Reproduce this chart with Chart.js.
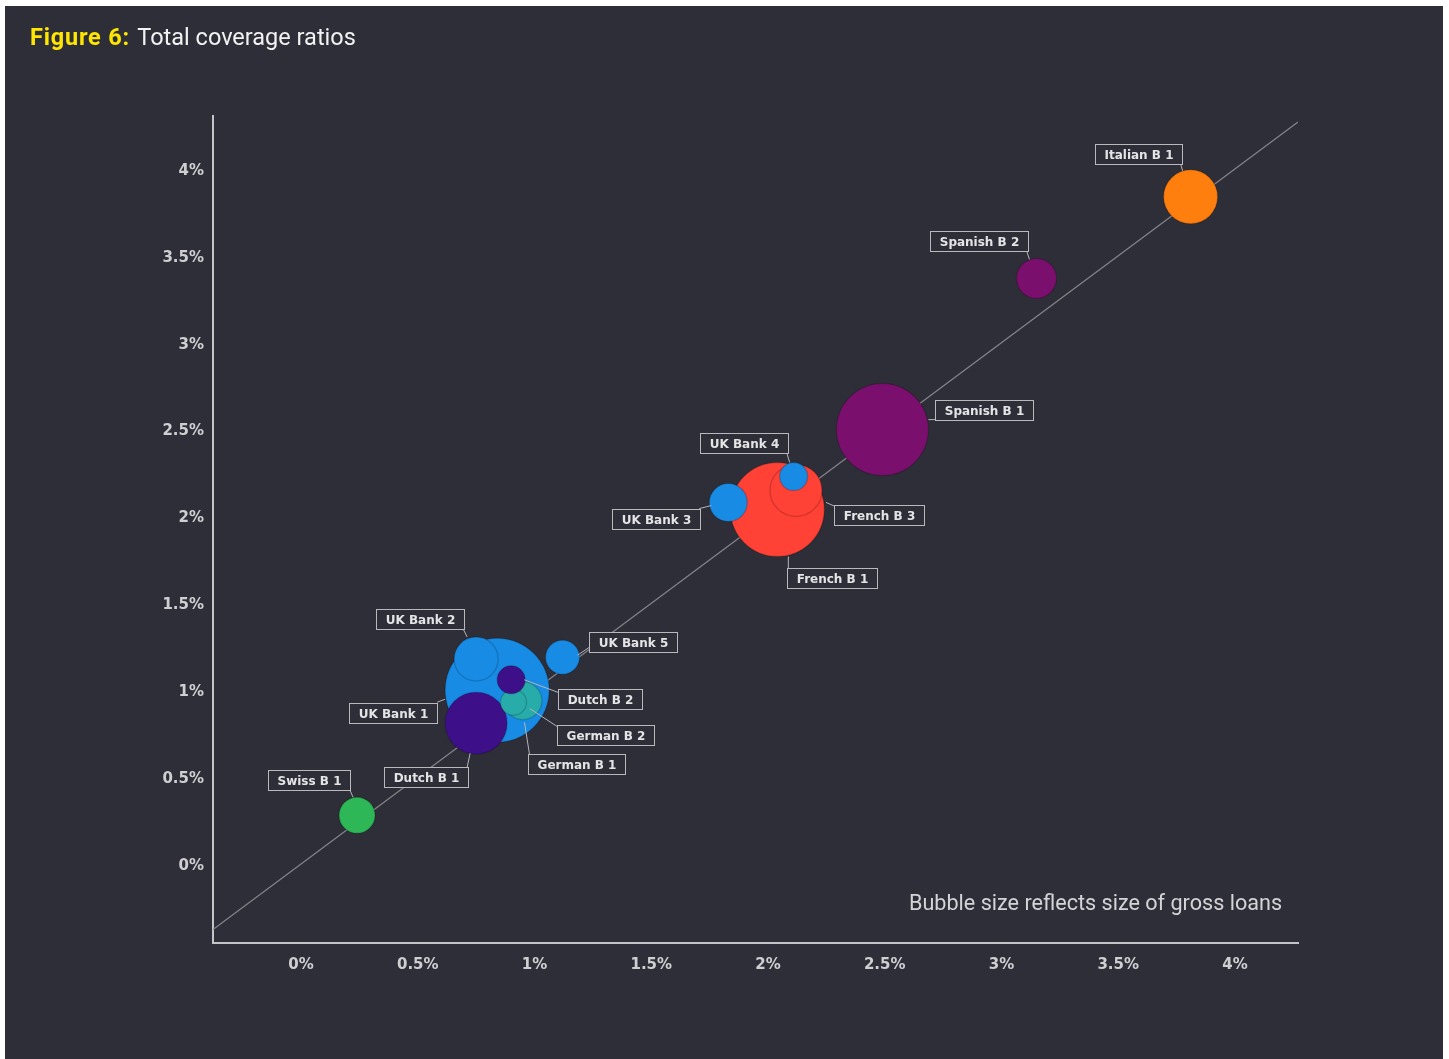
<!DOCTYPE html>
<html>
<head>
<meta charset="utf-8">
<script src="https://cdn.jsdelivr.net/npm/chart.js@4/dist/chart.umd.min.js"></script>
<style>
  html, body { margin: 0; padding: 0; background: #ffffff; }
  body { width: 1449px; height: 1059px; position: relative; overflow: hidden; }
  #panel { position: absolute; left: 5px; top: 6px; width: 1438px; height: 1053px; background: #2e2e38; }
  #title { position: absolute; left: 25px; top: 17px; font-family: Roboto, "DejaVu Sans", sans-serif; font-size: 23.5px; color: #f2f2f2; white-space: nowrap; }
  #title b { color: #ffe600; font-weight: 700; letter-spacing: 0.8px; margin-right: 2px; }
  #note { position: absolute; left: 904px; top: 884px; font-family: Roboto, "DejaVu Sans", sans-serif; font-size: 21.6px; color: #d4d4d8; white-space: nowrap; }
  canvas { position: absolute; left: 0; top: 0; }
</style>
</head>
<body>
<div id="panel">
  <canvas id="c" width="1438" height="1053"></canvas>
  <div id="title"><b>Figure 6:</b> Total coverage ratios</div>
  <div id="note">Bubble size reflects size of gross loans</div>
</div>
<script>
// ---- data ----
const BANKS    = ['Swiss B 1','UK Bank 1','UK Bank 2','Dutch B 1','German B 2','German B 1','Dutch B 2','UK Bank 5','French B 1','French B 3','UK Bank 3','UK Bank 4','Spanish B 1','Spanish B 2','Italian B 1'];
const X_VALUES = [0.24, 0.84, 0.75, 0.75, 0.95, 0.91, 0.90, 1.12, 2.04, 2.12, 1.83, 2.11, 2.49, 3.15, 3.81];
const Y_VALUES = [0.28, 1.00, 1.18, 0.81, 0.94, 0.93, 1.06, 1.19, 2.04, 2.15, 2.08, 2.23, 2.50, 3.37, 3.84];
const LOAN_SIZE = [18, 52, 22, 31, 19, 13, 14, 17, 47, 26, 19, 14, 46, 20, 27];
const COUNTRY  = ['Swiss','UK','UK','Dutch','German','German','Dutch','UK','French','French','UK','UK','Spanish','Spanish','Italian'];
const TICK_VALUES = [0, 0.5, 1, 1.5, 2, 2.5, 3, 3.5, 4];
const TICK_LABELS = ['0%','0.5%','1%','1.5%','2%','2.5%','3%','3.5%','4%'];
const X_MIN = -0.377, X_MAX = 4.27;
const Y_MIN = -0.455, Y_MAX = 4.305;

// ---- styles ----
const COLORS = {
  Swiss: '#2db757', UK: '#188ce5', Dutch: '#3d108a', German: '#27acaa',
  French: '#ff4136', Spanish: '#7b0f6e', Italian: '#ff7f0e'
};
// label box centre offset (dx,dy) and connector from a -> b, px relative to bubble centre
const LABEL_LAYOUT = {
  'Swiss B 1':  {dx:-48,  dy:-35,   a:[-7,-25], b:[-4,-18]},
  'UK Bank 1':  {dx:-104, dy:23,    a:[-60,12], b:[-52,9]},
  'UK Bank 2':  {dx:-56,  dy:-39.5, a:[-13,-30], b:[-9,-22]},
  'Dutch B 1':  {dx:-50.5,dy:54,    a:[-9,44],  b:[-6,30]},
  'German B 2': {dx:83,   dy:34,    a:[7,8],    b:[36,27]},
  'German B 1': {dx:63,   dy:62,    a:[11,20],  b:[16,52]},
  'Dutch B 2':  {dx:88.5, dy:19,    a:[13,0],   b:[48,13]},
  'UK Bank 5':  {dx:70,   dy:-15,   a:[15,-2],  b:[27,-10]},
  'French B 1': {dx:55,   dy:68,    a:[11,47],  b:[11,68]},
  'French B 3': {dx:82.5, dy:25,    a:[30,12],  b:[39,16]},
  'UK Bank 3':  {dx:-72,  dy:16,    a:[-29,6],  b:[-17,3]},
  'UK Bank 4':  {dx:-50,  dy:-33.5, a:[-7,-24], b:[-4,-14]},
  'Spanish B 1':{dx:102,  dy:-20,   a:[46,-10], b:[56,-10]},
  'Spanish B 2':{dx:-57.5,dy:-37.5, a:[-10,-28],b:[-7,-19]},
  'Italian B 1':{dx:-52,  dy:-43,   a:[-10,-33],b:[-8,-26]}
};

const bubbleData = BANKS.map((b, i) => ({x: X_VALUES[i], y: Y_VALUES[i], r: LOAN_SIZE[i]}));
const bubbleColors = COUNTRY.map(c => COLORS[c]);

const labelPlugin = {
  id: 'bankLabels',
  afterDatasetsDraw(chart) {
    const ctx = chart.ctx;
    const meta = chart.getDatasetMeta(0);
    ctx.save();
    ctx.font = 'bold 12px "DejaVu Sans", sans-serif';
    ctx.textAlign = 'center';
    ctx.textBaseline = 'middle';
    meta.data.forEach((el, i) => {
      const name = BANKS[i];
      const L = LABEL_LAYOUT[name];
      const cx = el.x, cy = el.y;
      ctx.strokeStyle = '#b4b4b8';
      ctx.lineWidth = 1;
      ctx.beginPath();
      ctx.moveTo(cx + L.a[0], cy + L.a[1]);
      ctx.lineTo(cx + L.b[0], cy + L.b[1]);
      ctx.stroke();
      const w = Math.round(ctx.measureText(name).width + 18);
      const h = 20;
      const bx = Math.round(cx + L.dx - w / 2) + 0.5;
      const by = Math.round(cy + L.dy - h / 2) + 0.5;
      ctx.fillStyle = '#2e2e38';
      ctx.fillRect(bx, by, w, h);
      ctx.strokeStyle = '#b9b9bd';
      ctx.strokeRect(bx, by, w, h);
      ctx.fillStyle = '#e4e4e6';
      ctx.fillText(name, bx + w / 2, by + h / 2 + 1);
    });
    ctx.restore();
  }
};

const tickFont = {family: '"DejaVu Sans", sans-serif', size: 15, weight: 'bold'};
const tickLabel = (v) => { const k = TICK_VALUES.indexOf(v); return k >= 0 ? TICK_LABELS[k] : ''; };

new Chart(document.getElementById('c'), {
  data: {
    datasets: [
      {
        type: 'bubble',
        data: bubbleData,
        backgroundColor: bubbleColors,
        borderColor: 'rgba(0,0,0,0.16)',
        borderWidth: 1.5,
        order: 0
      },
      {
        type: 'line',
        data: [{x: X_MIN, y: X_MIN}, {x: X_MAX, y: X_MAX}],
        borderColor: '#86868c',
        borderWidth: 1.2,
        pointRadius: 0,
        fill: false,
        order: 1
      }
    ]
  },
  options: {
    responsive: false,
    animation: false,
    events: [],
    layout: {padding: {left: 0, top: 110, right: 145, bottom: 0}},
    plugins: {legend: {display: false}, tooltip: {enabled: false}, title: {display: false}},
    scales: {
      x: {
        type: 'linear', min: X_MIN, max: X_MAX,
        grid: {display: true, color: 'transparent', drawTicks: false},
        border: {display: true, color: '#c4c4c8', width: 2},
        ticks: {color: '#cfcfd2', font: tickFont, padding: 13, callback: tickLabel},
        afterBuildTicks: (s) => { s.ticks = TICK_VALUES.map(v => ({value: v})); },
        afterFit: (s) => { s.height = 116; }
      },
      y: {
        type: 'linear', min: Y_MIN, max: Y_MAX,
        grid: {display: true, color: 'transparent', drawTicks: false},
        border: {display: true, color: '#c4c4c8', width: 2},
        ticks: {color: '#cfcfd2', font: tickFont, padding: 9, labelOffset: 2, callback: tickLabel},
        afterBuildTicks: (s) => { s.ticks = TICK_VALUES.map(v => ({value: v})); },
        afterFit: (s) => { s.width = 208; }
      }
    }
  },
  plugins: [labelPlugin]
});
</script>
</body>
</html>
